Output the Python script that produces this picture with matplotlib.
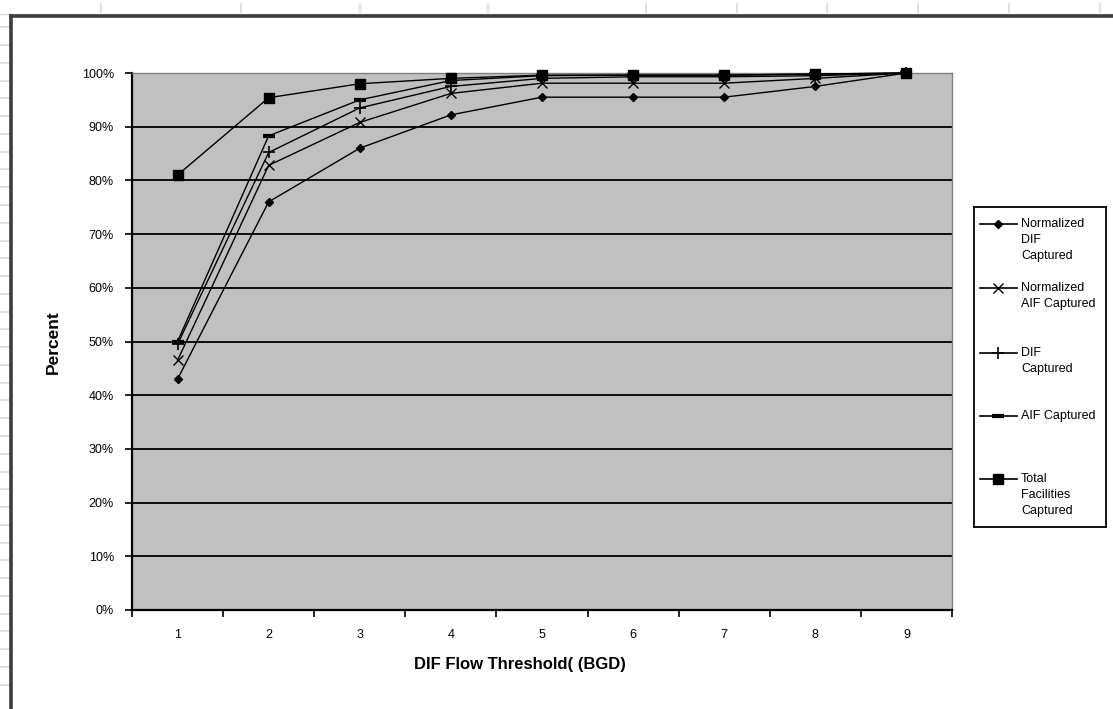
import numpy as np
import matplotlib.pyplot as plt
from matplotlib.lines import Line2D

plt.rcParams['font.family'] = ['Liberation Sans', 'DejaVu Sans']

W, H = 1113, 709

# Flow threshold categories (BGD)
thresholds = [1, 2, 3, 4, 5, 6, 7, 8, 9]

# Percent captured at each threshold
norm_dif = [43, 76, 86, 92.2, 95.5, 95.5, 95.5, 97.5, 100]
norm_aif = [46.5, 82.8, 90.8, 96.2, 98.1, 98.1, 98.1, 99.0, 100]
dif_cap = [49.5, 85.2, 93.5, 97.5, 99.0, 99.3, 99.3, 99.5, 100]
aif_cap = [50, 88.3, 95.0, 98.6, 99.5, 99.6, 99.6, 99.8, 100]
total_cap = [81, 95.4, 98.0, 99.0, 99.6, 99.6, 99.6, 99.8, 100]

labels = ["Normalized\nDIF\nCaptured", "Normalized\nAIF Captured",
          "DIF\nCaptured", "AIF Captured", "Total\nFacilities\nCaptured"]
series = [norm_dif, norm_aif, dif_cap, aif_cap, total_cap]
styles = [dict(marker='D', ms=4.5),
          dict(marker='x', ms=7, mew=1.0),
          dict(marker='+', ms=9, mew=1.2),
          dict(marker='_', ms=8, mew=3),
          dict(marker='s', ms=7.5)]

y_ticks = np.arange(0, 101, 10)
y_ticklabels = ["%d%%" % v for v in y_ticks]


def fx(x):
    return x / W


def fy(y):
    return 1 - y / H


fig = plt.figure(figsize=(W / 100, H / 100), dpi=100)

# worksheet grid ticks behind the chart object
grid_col = '#d3d9e6'
for x in [101, 241, 360, 488, 646, 737, 827, 918, 1009, 1100]:
    fig.add_artist(Line2D([fx(x), fx(x)], [fy(4), fy(12)], color=grid_col, lw=1.2))
for y in 27.3 + 17.77 * np.arange(38):
    fig.add_artist(Line2D([fx(0), fx(9)], [fy(y), fy(y)], color=grid_col, lw=1.2))
fig.add_artist(Line2D([0, 1], [fy(13.5), fy(13.5)], color=grid_col, lw=1))
# chart object frame
fig.add_artist(Line2D([fx(11), 1], [fy(15.5), fy(15.5)], color='#3c3c3c', lw=2.6))
fig.add_artist(Line2D([fx(11), fx(11)], [0, fy(15.5)], color='#3c3c3c', lw=2.6))

ax = fig.add_axes([fx(132), fy(610), fx(952 - 132), (610 - 73) / H])
ax.set_facecolor('#c0c0c0')

for vals, st in zip(series, styles):
    ax.plot(thresholds, vals, color='black', lw=1.0, mfc='black', mec='black',
            clip_on=False, zorder=3, **st)

ax.set_xlim(0.5, 9.5)
ax.set_ylim(0, 100)
ax.set_yticks(y_ticks)
ax.set_yticklabels(y_ticklabels, fontsize=9)
for v in y_ticks[1:-1]:
    ax.axhline(v, color='black', lw=1.3, zorder=1)

ax.set_xticks(np.arange(0.5, 10, 1))
ax.set_xticklabels([])
ax.set_xticks(thresholds, minor=True)
ax.set_xticklabels([str(t) for t in thresholds], minor=True, fontsize=9)
ax.tick_params(axis='x', which='minor', length=0, pad=14)
ax.tick_params(axis='both', which='major', direction='out', length=5, width=1.2, color='black')
ax.tick_params(axis='y', which='major', pad=8)

for side in ['left', 'bottom']:
    ax.spines[side].set_linewidth(1.6)
for side in ['top', 'right']:
    ax.spines[side].set_color('#808080')
    ax.spines[side].set_linewidth(1)

fig.text(fx(520), fy(664), "DIF Flow Threshold( (BGD)", fontsize=12,
         fontweight='bold', ha='center', va='center')
fig.text(fx(53), fy(342), "Percent", fontsize=12.5, fontweight='bold',
         rotation=90, ha='center', va='center')

# legend box drawn in its own pixel-scaled axes
lg = fig.add_axes([fx(974), fy(527), fx(1106 - 974), (527 - 207) / H])
lg.set_xlim(0, 132)
lg.set_ylim(320, 0)
lg.set_xticks([])
lg.set_yticks([])
for s in lg.spines.values():
    s.set_linewidth(1.3)
entry_y = [17, 81, 146, 209, 272]
for yy, lab, st in zip(entry_y, labels, styles):
    lg.plot([6, 43], [yy, yy], color='black', lw=1.2)
    lg.plot([24], [yy], color='black', mfc='black', mec='black', ls='none', **st)
    lg.text(47, yy - 6, lab, fontsize=9, va='top', ha='left', linespacing=1.45,
            transform=lg.transData)

fig.savefig("out.png", dpi=100)
